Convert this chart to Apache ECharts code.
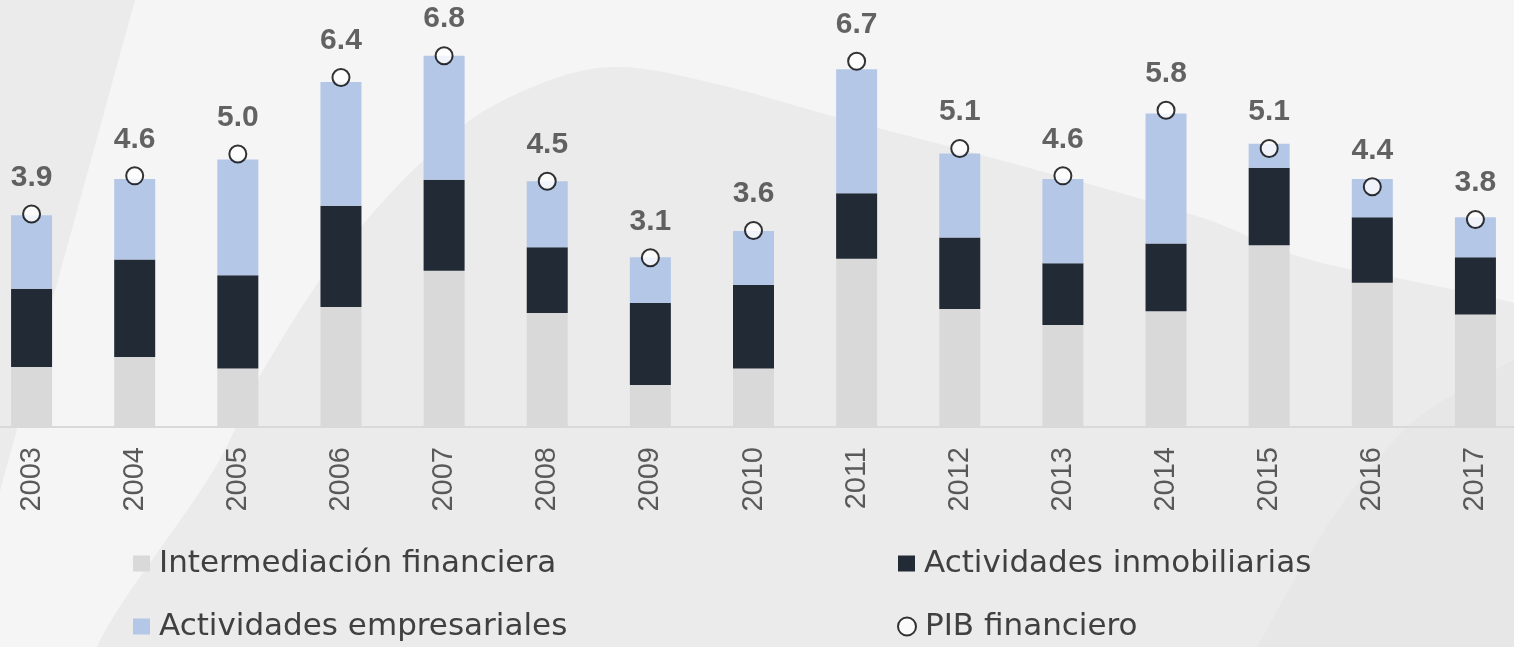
<!DOCTYPE html>
<html>
<head>
<meta charset="utf-8">
<script src="https://cdn.jsdelivr.net/npm/echarts@6/dist/echarts.min.js"></script>
<style>
html,body{margin:0;padding:0;background:#f5f5f5;overflow:hidden;width:1514px;height:647px;position:relative;}
#chart{position:absolute;left:-20px;top:0;width:1547px;height:647px;}
</style>
</head>
<body>
<div id="chart"></div>
<script>
const years = ['2003','2004','2005','2006','2007','2008','2009','2010','2011','2012','2013','2014','2015','2016','2017'];
const intermediacion = [1.10,1.28,1.07,2.20,2.86,2.09,0.77,1.07,3.08,2.16,1.87,2.12,3.33,2.64,2.06];
const inmobiliarias = [1.43,1.79,1.71,1.85,1.67,1.20,1.50,1.53,1.20,1.31,1.13,1.24,1.42,1.20,1.05];
const empresariales = [1.35,1.47,2.12,2.27,2.27,1.21,0.84,0.99,2.27,1.54,1.54,2.38,0.44,0.70,0.73];
const pib = [3.9,4.6,5.0,6.4,6.8,4.5,3.1,3.6,6.7,5.1,4.6,5.8,5.1,4.4,3.8];

const names = ['Intermediación financiera','Actividades inmobiliarias','Actividades empresariales','PIB financiero'];
const colors = ['#d9d9d9','#222a35','#b4c7e7'];
const OFF = 20; // the chart div starts 20px left of the page

const chart = echarts.init(document.getElementById('chart'), null, {renderer:'canvas'});

function sh(pts){ return pts.map(function(p){ return [p[0]+OFF, p[1]]; }); }

const legendText = {fontFamily:'DejaVu Sans', fontSize:31, color:'#404040', padding:[0,0,0,4]};
function mkLegend(name, left, top, isCircle){
  return {
    data:[name], left:left+OFF, top:top, padding:0, selectedMode:false,
    icon: isCircle ? 'circle' : 'rect',
    itemWidth: isCircle ? 18 : 17, itemHeight: isCircle ? 18 : 16,
    textStyle: legendText
  };
}

const option = {
  backgroundColor:'#f5f5f5',
  animation:false,
  graphic:[
    {type:'polygon', z:-10, silent:true, shape:{points:sh([[-30,0],[135,0],[-30,600]])}, style:{fill:'#ebebeb'}},
    {type:'polygon', z:-10, silent:true, shape:{smooth:0.35, points:sh([[110,700],[230,440],[262,372],[350,240],[460,128],[540,84],[612,67],[700,80],[836,117],[1000,160],[1200,217],[1300,257],[1407,280],[1514,303],[1600,330],[1600,700]])}, style:{fill:'#ebebeb'}},
    {type:'polygon', z:-9, silent:true, shape:{smooth:0.3, points:sh([[1600,320],[1514,360],[1460,390],[1407,427],[1333,517],[1257,647],[1230,700],[1600,700]])}, style:{fill:'#e7e7e7'}}
  ],
  grid:{left:0, right:0, top:17.5, bottom:220, containLabel:false},
  legend:[
    mkLegend(names[0],133,548,false),
    mkLegend(names[1],898,548,false),
    mkLegend(names[2],133,611,false),
    mkLegend(names[3],897,611,true)
  ],
  xAxis:{
    type:'category', data:years, boundaryGap:true,
    axisLine:{show:true, lineStyle:{color:'#d9d9d9', width:2}},
    axisTick:{show:false},
    axisLabel:{rotate:90, margin:20, fontFamily:'Liberation Sans', fontSize:29, color:'#595959'}
  },
  yAxis:{type:'value', min:0, max:7.5, show:false, splitLine:{show:false}},
  series:[
    {name:names[0], type:'bar', stack:'t', barWidth:41, data:intermediacion, itemStyle:{color:colors[0]}},
    {name:names[1], type:'bar', stack:'t', barWidth:41, data:inmobiliarias, itemStyle:{color:colors[1]}},
    {name:names[2], type:'bar', stack:'t', barWidth:41, data:empresariales, itemStyle:{color:colors[2]}},
    {name:names[3], type:'scatter', data:pib, symbol:'circle', symbolSize:17, z:5,
     itemStyle:{color:'#ffffff', borderColor:'#000000', borderWidth:2},
     label:{show:true, position:'top', distance:12, fontFamily:'Liberation Sans', fontWeight:'bold', fontSize:30, color:'#3d3d3d',
       formatter:function(p){return p.value.toFixed(1);}}}
  ]
};
chart.setOption(option);
</script>
</body>
</html>
